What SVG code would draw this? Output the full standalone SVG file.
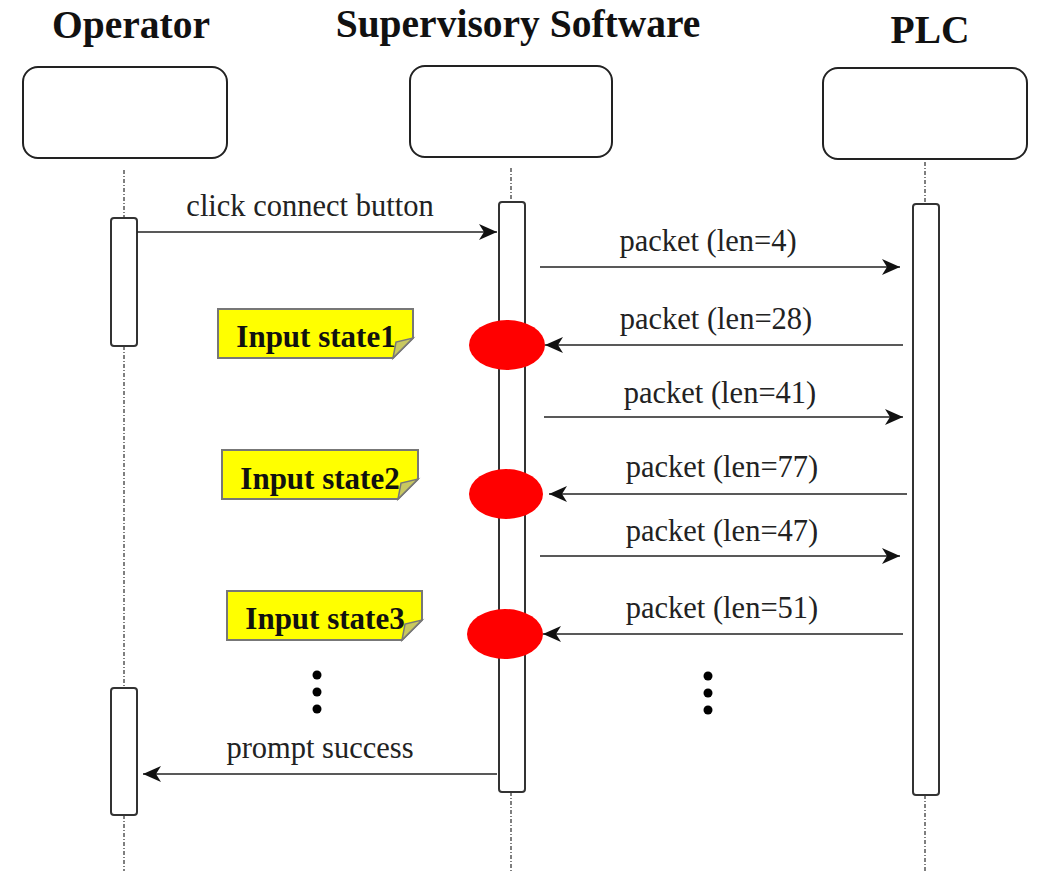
<svg xmlns="http://www.w3.org/2000/svg" width="1038" height="871" viewBox="0 0 1038 871">
<style>
.title{font-family:"Liberation Serif",serif;font-weight:bold;font-size:39.5px;fill:#111;text-anchor:middle}
.lbl{font-family:"Liberation Serif",serif;font-size:30.5px;fill:#222;text-anchor:middle}
.note{font-family:"Liberation Serif",serif;font-weight:bold;font-size:31px;fill:#111;text-anchor:middle}
.head{fill:#fff;stroke:#222;stroke-width:2}
.act{fill:#fff;stroke:#333;stroke-width:2}
.life{stroke:#555;stroke-width:1.5;stroke-dasharray:4 2 1 2;fill:none}
.msg{stroke:#222;stroke-width:1.6;fill:none}
.nt{fill:#ffff00;stroke:#777;stroke-width:2}
.fold{fill:#c8c860;stroke:#777;stroke-width:1.5}
.evt{fill:#ff0000}
</style>
<defs>
<marker id="ah" viewBox="0 0 20 20" refX="18" refY="10" markerWidth="20" markerHeight="20" markerUnits="userSpaceOnUse" orient="auto">
<path d="M0,2 L18,10 L0,18 L5,10 Z" fill="#111"/>
</marker>
</defs>
<g id="operator">
<text class="title" x="131" y="38">Operator</text>
<rect class="head" x="23" y="67" width="204" height="91" rx="15"/>
<line class="life" x1="124" y1="170" x2="124" y2="218"/>
<line class="life" x1="124" y1="346" x2="124" y2="688"/>
<line class="life" x1="124" y1="815" x2="124" y2="871"/>
<rect class="act" x="111" y="218" width="26" height="128" rx="3"/>
<rect class="act" x="111" y="688" width="26" height="127" rx="3"/>
</g>
<g id="supervisory">
<text class="title" x="518" y="37">Supervisory Software</text>
<rect class="head" x="410" y="66" width="202" height="91" rx="15"/>
<line class="life" x1="511" y1="168" x2="511" y2="202"/>
<line class="life" x1="511" y1="792" x2="511" y2="871"/>
<rect class="act" x="499" y="202" width="26" height="590" rx="3"/>
</g>
<g id="plc">
<text class="title" x="930" y="43">PLC</text>
<rect class="head" x="823" y="68" width="204" height="91" rx="15"/>
<line class="life" x1="925" y1="162" x2="925" y2="204"/>
<line class="life" x1="925" y1="795" x2="925" y2="871"/>
<rect class="act" x="913" y="204" width="26" height="591" rx="3"/>
</g>
<g id="events">
<ellipse class="evt" cx="507" cy="345" rx="38" ry="25"/>
<ellipse class="evt" cx="506" cy="494" rx="37" ry="25"/>
<ellipse class="evt" cx="505" cy="634" rx="38" ry="25"/>
</g>
<g id="note1">
<path class="nt" d="M218,309 H413 V338 L393,358 H218 Z"/>
<path class="fold" d="M413,338 L393,358 L396,342 Z"/>
<text class="note" x="316" y="347">Input state1</text>
</g>
<g id="note2">
<path class="nt" d="M222,450 H418 V479 L398,499 H222 Z"/>
<path class="fold" d="M418,479 L398,499 L401,483 Z"/>
<text class="note" x="320" y="489">Input state2</text>
</g>
<g id="note3">
<path class="nt" d="M227,591 H422 V620 L402,640 H227 Z"/>
<path class="fold" d="M422,620 L402,640 L405,624 Z"/>
<text class="note" x="325" y="629">Input state3</text>
</g>
<g id="ellipsis">
<circle cx="317" cy="675" r="4.5" fill="#000"/>
<circle cx="317" cy="692" r="4.5" fill="#000"/>
<circle cx="317" cy="709" r="4.5" fill="#000"/>
<circle cx="708" cy="676" r="4.5" fill="#000"/>
<circle cx="708" cy="693" r="4.5" fill="#000"/>
<circle cx="708" cy="710" r="4.5" fill="#000"/>
</g>
<g id="connectors">
<line class="msg" x1="137" y1="232" x2="497" y2="232" marker-end="url(#ah)"/>
<text class="lbl" x="310" y="216">click connect button</text>
<line class="msg" x1="540" y1="267" x2="900" y2="267" marker-end="url(#ah)"/>
<text class="lbl" x="708" y="251">packet (len=4)</text>
<line class="msg" x1="903" y1="345" x2="545" y2="345" marker-end="url(#ah)"/>
<text class="lbl" x="716" y="329">packet (len=28)</text>
<line class="msg" x1="544" y1="417" x2="903" y2="417" marker-end="url(#ah)"/>
<text class="lbl" x="720" y="403">packet (len=41)</text>
<line class="msg" x1="907" y1="494" x2="549" y2="494" marker-end="url(#ah)"/>
<text class="lbl" x="722" y="477">packet (len=77)</text>
<line class="msg" x1="540" y1="556" x2="900" y2="556" marker-end="url(#ah)"/>
<text class="lbl" x="722" y="541">packet (len=47)</text>
<line class="msg" x1="903" y1="634" x2="543" y2="634" marker-end="url(#ah)"/>
<text class="lbl" x="722" y="618">packet (len=51)</text>
<line class="msg" x1="497" y1="774" x2="143" y2="774" marker-end="url(#ah)"/>
<text class="lbl" x="320" y="758">prompt success</text>
</g>
</svg>
